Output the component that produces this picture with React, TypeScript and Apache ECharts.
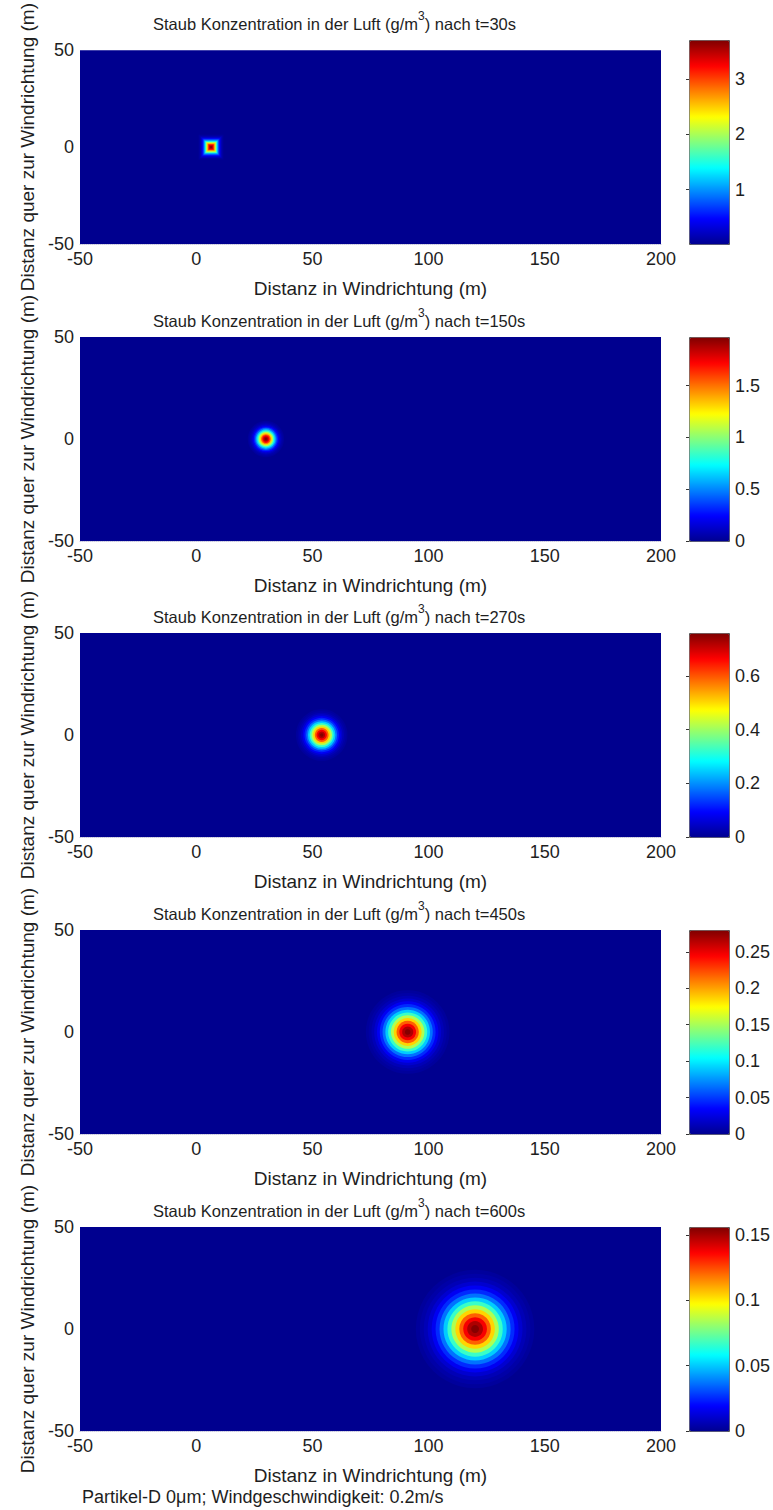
import React, { useEffect, useRef } from "react";
import * as echarts from "echarts";

// ---------- data ----------
const panelTimes = [30, 150, 270, 450, 600];
const puffCenterX = [6.4, 30, 54, 91, 120];
const puffCenterY = [0, 0, 0, 0, 0];
const colorbarMin = [0.02, 0, 0, 0, 0];
const colorbarMax = [3.7, 1.97, 0.76, 0.28, 0.156];
const colorbarTicks = [
  [1, 2, 3],
  [0, 0.5, 1, 1.5],
  [0, 0.2, 0.4, 0.6],
  [0, 0.05, 0.1, 0.15, 0.2, 0.25],
  [0, 0.05, 0.1, 0.15],
];
const xRange = [-50, 200];
const xStep = 50;
const yRange = [-50, 50];
const yStep = 50;

// concentration contours of each puff: radius (m) and concentration (g/m3), outermost first
const ringRadius30 = [5.4, 5.04, 4.68, 4.32, 3.96, 3.6, 3.24, 2.88, 2.52, 2.16, 1.8, 1.44, 1.08, 0.72, 0.36];
const ringConc30 = [0.055, 0.097, 0.162, 0.263, 0.408, 0.609, 0.872, 1.201, 1.59, 2.021, 2.468, 2.896, 3.265, 3.537, 3.682];
const ringRadius150 = [7.8, 7.28, 6.76, 6.24, 5.72, 5.2, 4.68, 4.16, 3.64, 3.12, 2.6, 2.08, 1.56, 1.04, 0.52];
const ringConc150 = [0.029, 0.051, 0.087, 0.14, 0.217, 0.324, 0.464, 0.64, 0.846, 1.076, 1.314, 1.542, 1.739, 1.883, 1.96];
const ringRadius270 = [11.1, 10.36, 9.62, 8.88, 8.14, 7.4, 6.66, 5.92, 5.18, 4.44, 3.7, 2.96, 2.22, 1.48, 0.74];
const ringConc270 = [0.0113, 0.0198, 0.0334, 0.054, 0.0838, 0.125, 0.179, 0.247, 0.327, 0.415, 0.507, 0.595, 0.671, 0.727, 0.756];
const ringRadius450 = [18, 16.8, 15.6, 14.4, 13.2, 12, 10.8, 9.6, 8.4, 7.2, 6, 4.8, 3.6, 2.4, 1.2];
const ringConc450 = [0.0042, 0.0073, 0.0123, 0.0199, 0.0309, 0.0461, 0.066, 0.0909, 0.1203, 0.1529, 0.1868, 0.2192, 0.2471, 0.2677, 0.2786];
const ringRadius600 = [25.5, 23.8, 22.1, 20.4, 18.7, 17, 15.3, 13.6, 11.9, 10.2, 8.5, 6.8, 5.1, 3.4, 1.7];
const ringConc600 = [0.0023, 0.0041, 0.0068, 0.0111, 0.0172, 0.0257, 0.0368, 0.0507, 0.067, 0.0852, 0.104, 0.1221, 0.1377, 0.1491, 0.1552];

const ringRadii = [ringRadius30, ringRadius150, ringRadius270, ringRadius450, ringRadius600];
const ringConcs = [ringConc30, ringConc150, ringConc270, ringConc450, ringConc600];
// the first snapshot is coarse, its cells show as squares
const cellShape = ["rect", "circle", "circle", "circle", "circle"];

const xLabel = "Distanz in Windrichtung (m)";
const yLabel = "Distanz quer zur Windrichtung (m)";
const footnote = "Partikel-D 0\u03bcm; Windgeschwindigkeit: 0.2m/s";

// ---------- styling / layout ----------
const JET = ["#00008f", "#0000ff", "#0080ff", "#00ffff", "#80ff80", "#ffff00", "#ff8000", "#ff0000", "#800000"];
const FONT = "'Liberation Sans', Arial, Helvetica, sans-serif";
const TEXT = "#1e1e1e";
const PLOT_LEFT = 80;
const PLOT_W = 581;
const PLOT_H = 204;
const CB_LEFT = 689;
const CB_W = 40;
const PLOT_TOP = [40, 337, 633, 930, 1227];
const FS = 18;
const NAME_FS = 19;

export default function App() {
  const ref = useRef<HTMLDivElement>(null);
  useEffect(() => {
    document.body.style.margin = "0";
    const chart = echarts.init(ref.current!, null, { renderer: "svg" });
    const grid: any[] = [];
    const xAxis: any[] = [];
    const yAxis: any[] = [];
    const series: any[] = [];
    const visualMap: any[] = [];
    const graphic: any[] = [];

    for (let i = 0; i < 5; i++) {
      const g = 2 * i;
      const gc = 2 * i + 1;
      grid.push({
        left: PLOT_LEFT, top: PLOT_TOP[i], width: PLOT_W, height: PLOT_H,
        show: true, backgroundColor: JET[0], borderWidth: 0,
      });
      grid.push({ left: CB_LEFT, top: PLOT_TOP[i], width: CB_W, height: PLOT_H, show: false });

      xAxis.push({
        gridIndex: g, type: "value", min: xRange[0], max: xRange[1], interval: xStep,
        axisLine: { show: true, onZero: false, lineStyle: { color: "#c8c8dc", type: "dotted", width: 1 } },
        axisTick: { show: false }, splitLine: { show: false },
        axisLabel: { fontSize: FS, color: TEXT, fontFamily: FONT, margin: 6 },
        name: xLabel, nameLocation: "middle", nameGap: 35,
        nameTextStyle: { fontSize: NAME_FS, color: TEXT, fontFamily: FONT },
      });
      xAxis.push({ gridIndex: gc, type: "value", show: false, min: 0, max: 1 });

      yAxis.push({
        gridIndex: g, type: "value", min: yRange[0], max: yRange[1], interval: yStep,
        axisLine: { show: false }, axisTick: { show: false }, splitLine: { show: false },
        axisLabel: { fontSize: FS, color: TEXT, fontFamily: FONT, margin: 6 },
        name: yLabel, nameLocation: "middle", nameGap: 43, nameRotate: 90,
        nameTextStyle: { fontSize: NAME_FS, color: TEXT, fontFamily: FONT },
      });
      yAxis.push({
        gridIndex: gc, type: "value", position: "right",
        min: colorbarMin[i], max: colorbarMax[i],
        axisLine: { show: false }, splitLine: { show: false },
        axisTick: { show: true, inside: true, length: 3, customValues: colorbarTicks[i], lineStyle: { color: "#333" } },
        axisLabel: { customValues: colorbarTicks[i], fontSize: FS, color: TEXT, fontFamily: FONT, margin: 6 },
      });

      const data = ringRadii[i].map((r, k) => [puffCenterX[i], puffCenterY[i], r, ringConcs[i][k]]);
      const shape = cellShape[i];
      series.push({
        type: "custom", xAxisIndex: g, yAxisIndex: g, clip: true,
        dimensions: ["x", "y", "r", "c"], encode: { x: 0, y: 1 },
        data,
        renderItem: (params: any, api: any) => {
          const c = api.coord([api.value(0), api.value(1)]);
          const e = api.coord([api.value(0) + api.value(2), api.value(1)]);
          const r = Math.abs(e[0] - c[0]);
          if (shape === "rect") {
            return {
              type: "rect", shape: { x: c[0] - r, y: c[1] - r, width: 2 * r, height: 2 * r },
              style: { fill: api.visual("color") },
            };
          }
          return { type: "circle", shape: { cx: c[0], cy: c[1], r }, style: { fill: api.visual("color") } };
        },
      });

      visualMap.push({
        type: "continuous", seriesIndex: i, dimension: 3,
        min: colorbarMin[i], max: colorbarMax[i],
        inRange: { color: JET },
        calculable: false, hoverLink: false,
        left: CB_LEFT, top: PLOT_TOP[i], itemWidth: CB_W, itemHeight: PLOT_H,
        padding: 0, borderColor: "#555", borderWidth: 1,
      });

      graphic.push({
        type: "text", x: 153, y: PLOT_TOP[i] - 30,
        style: {
          text: `{a|Staub Konzentration in der Luft (g/m}{s|3}{a|) nach t=${panelTimes[i]}s}`,
          rich: {
            a: { fontSize: 16.5, fontFamily: FONT, fill: TEXT, verticalAlign: "bottom", lineHeight: 22 },
            s: { fontSize: 12, fontFamily: FONT, fill: TEXT, verticalAlign: "top", lineHeight: 22 },
          },
        },
      });
    }

    graphic.push({
      type: "text", x: 82, y: 1497,
      style: { text: footnote, fontSize: FS, fontFamily: FONT, fill: TEXT, verticalAlign: "middle" },
    });

    chart.setOption({ animation: false, grid, xAxis, yAxis, series, visualMap, graphic });
    return () => chart.dispose();
  }, []);
  return <div ref={ref} style={{ width: 773, height: 1510 }} />;
}
